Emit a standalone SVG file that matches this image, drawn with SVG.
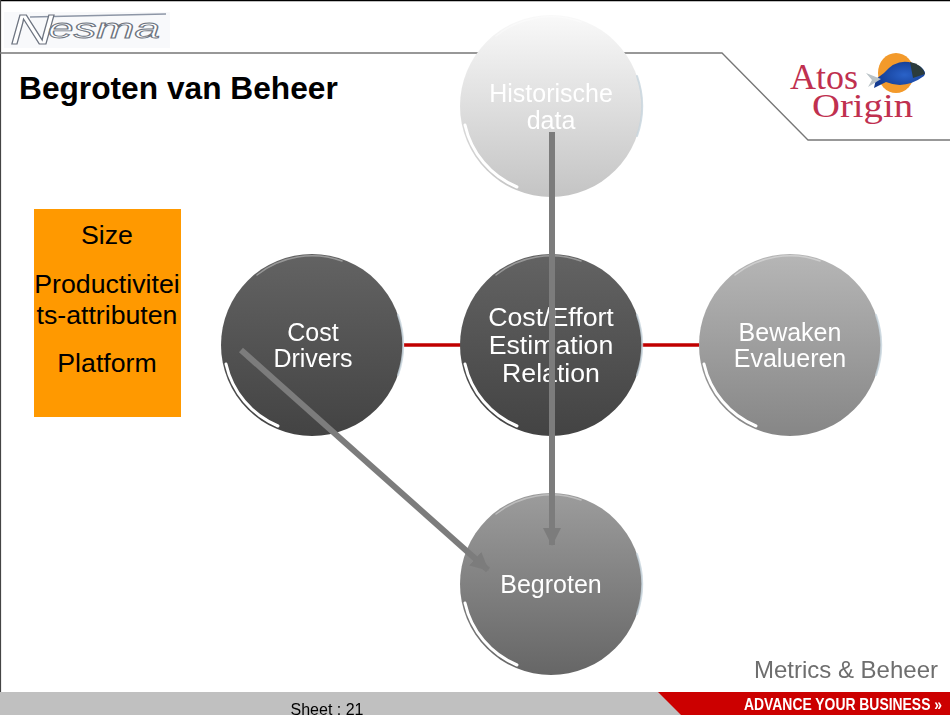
<svg xmlns="http://www.w3.org/2000/svg" width="950" height="715" viewBox="0 0 950 715">
<style>
text{font-family:"Liberation Sans",Arial,sans-serif}
.t{font-size:25px;fill:#fff;text-anchor:middle}
.tb{font-size:26.700px;fill:#fff;text-anchor:middle}
.o{font-size:26.700px;fill:#000;text-anchor:middle}
.serif{font-family:"Liberation Serif",serif;fill:#c0304f}
.red{stroke:#c00000;stroke-width:3.500;fill:none}
.grey{stroke:#7c7c7c;stroke-width:6;fill:none;marker-end:url(#ah)}
</style>
<defs>
<marker id="ah" markerUnits="userSpaceOnUse" viewBox="0 0 18 18" refX="17" refY="9" markerWidth="18" markerHeight="18" orient="auto"><path d="M0 0L18 9L0 18Z" fill="#7c7c7c"/></marker>
<linearGradient id="g1" x1="0" y1="0" x2="0" y2="1"><stop offset="0" stop-color="#f9f9f9"/><stop offset="1" stop-color="#c4c4c4"/></linearGradient>
<linearGradient id="g2" x1="0" y1="0" x2="0" y2="1"><stop offset="0" stop-color="#636363"/><stop offset="1" stop-color="#434343"/></linearGradient>
<linearGradient id="g3" x1="0" y1="0" x2="0" y2="1"><stop offset="0" stop-color="#b6b6b6"/><stop offset="1" stop-color="#868686"/></linearGradient>
<linearGradient id="g4" x1="0" y1="0" x2="0" y2="1"><stop offset="0" stop-color="#9c9c9c"/><stop offset="1" stop-color="#666"/></linearGradient>
<radialGradient id="fish" cx=".6" cy=".5" r=".6"><stop offset="0" stop-color="#2a62c8"/><stop offset="1" stop-color="#123a90"/></radialGradient>
<filter id="soft" x="-10%" y="-10%" width="120%" height="120%"><feGaussianBlur stdDeviation=".6"/></filter>
<g id="rim" fill="none" stroke-linecap="round" filter="url(#soft)">
<path d="M86 -30A91 91 0 0 1 86 30" stroke="#c5d3dc" stroke-width="2" opacity=".8"/>
<path d="M-86 19A88 88 0 0 0 -34 81" stroke="#fff" stroke-width="3"/>
<path d="M-55 -70A89 89 0 0 1 30 -84" stroke="#fff" stroke-width="1.500" opacity=".35"/>
</g>
</defs>
<rect width="950" height="715" fill="#fff"/>
<g id="frame">
<path d="M0 .5H950" stroke="#000" stroke-width="1.500" fill="none"/>
<path d="M.5 0V692" stroke="#444" stroke-width="1.200" fill="none"/>
<path d="M0 53H722L808 140H950" stroke="#777" stroke-width="1.300" fill="none"/>
</g>
<g id="nesma-logo">
<rect x="4" y="12" width="166" height="36" fill="#f8f9fb"/>
<path d="M30 17L166 14" stroke="#8d96a6" stroke-width="1.500"/>
<text x="10" y="44" font-size="42" font-style="italic" fill="#fff" stroke="#6d7480" stroke-width=".9" textLength="44" lengthAdjust="spacingAndGlyphs">N</text>
<text x="48" y="38" font-size="27" font-style="italic" fill="#fff" stroke="#6d7480" stroke-width=".9" textLength="112" lengthAdjust="spacingAndGlyphs">esma</text>
</g>
<text id="title" x="19" y="99" font-size="31.700" font-weight="700" fill="#000">Begroten van Beheer</text>
<g id="atos-logo">
<ellipse cx="896" cy="73" rx="18" ry="20" fill="#f39a2b"/>
<path d="M876 79L884 73Q900 54 921 67Q927 72 924 76Q905 90 886 82L874 88Z" fill="url(#fish)"/>
<path d="M866 73L881 79L868 87L872 80Z" fill="#b9c2c6"/>
<path d="M910 62Q922 64 925 74L913 78Z" fill="#2c3c3c"/>
<text class="serif" x="790" y="89" font-size="36" textLength="68" lengthAdjust="spacingAndGlyphs">Atos</text>
<text class="serif" x="812" y="117" font-size="34" textLength="101" lengthAdjust="spacingAndGlyphs">Origin</text>
</g>
<g id="size-box">
<rect x="34" y="209" width="147" height="208" fill="#ff9900"/>
<text class="o" x="107" y="244">Size</text>
<text class="o" x="107" y="293">Productivitei</text>
<text class="o" x="107" y="324">ts-attributen</text>
<text class="o" x="107" y="372">Platform</text>
</g>
<g id="red-connectors">
<path class="red" d="M404 345H461"/>
<path class="red" d="M642 345H699"/>
</g>
<g id="historische-data">
<circle cx="551" cy="106" r="91" fill="url(#g1)"/>
<use href="#rim" x="551" y="106"/>
<text class="t" x="551" y="102">Historische</text>
<text class="t" x="551" y="129">data</text>
</g>
<g id="cost-drivers">
<circle cx="312" cy="345" r="91" fill="url(#g2)"/>
<use href="#rim" x="312" y="345"/>
<text class="t" x="313" y="341">Cost</text>
<text class="t" x="313" y="367">Drivers</text>
</g>
<g id="cost-effort">
<circle cx="551" cy="345" r="91" fill="url(#g2)"/>
<use href="#rim" x="551" y="345"/>
<text class="tb" x="551" y="326">Cost/Effort</text>
<text class="tb" x="551" y="354">Estimation</text>
<text class="tb" x="551" y="382">Relation</text>
</g>
<g id="bewaken-evalueren">
<circle cx="790" cy="345" r="91" fill="url(#g3)"/>
<use href="#rim" x="790" y="345"/>
<text class="t" x="790" y="341">Bewaken</text>
<text class="t" x="790" y="367">Evalueren</text>
</g>
<g id="begroten">
<circle cx="551" cy="584" r="91" fill="url(#g4)"/>
<use href="#rim" x="551" y="584"/>
<text class="t" x="551" y="593">Begroten</text>
</g>
<g id="connectors">
<path class="grey" d="M552 132V545"/>
<path class="grey" d="M241 350L488 570"/>
</g>
<text id="subject" x="938" y="678" font-size="24" fill="#6e6e6e" text-anchor="end">Metrics &amp; Beheer</text>
<g id="footer">
<rect y="692" width="950" height="23" fill="#c0c0c0"/>
<path d="M658 692H950V715H681Z" fill="#cc0000"/>
<text x="744" y="710" font-size="16.500" font-weight="700" fill="#fff" textLength="198" lengthAdjust="spacingAndGlyphs">ADVANCE YOUR BUSINESS »</text>
<text x="327" y="715" font-size="16" fill="#000" text-anchor="middle">Sheet : 21</text>
</g>
</svg>
